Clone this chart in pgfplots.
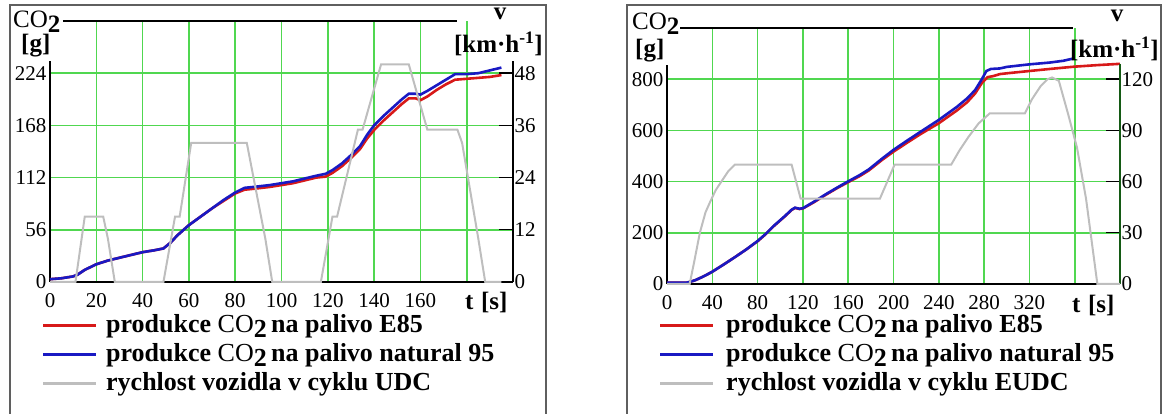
\documentclass[border=0pt]{standalone}
\usepackage{fontspec}
\setmainfont{Liberation Serif}
\usepackage{pgfplots}
\pgfplotsset{compat=1.18}
\definecolor{gridg}{RGB}{80,215,80}
\definecolor{co2red}{RGB}{215,25,25}
\definecolor{co2blue}{RGB}{25,25,195}
\definecolor{vgray}{RGB}{190,190,190}
\definecolor{framec}{RGB}{95,95,95}
\definecolor{axgreen}{RGB}{20,90,20}
\newcommand\tickfont{\fontsize{21}{24}\selectfont}
\newcommand\lblfont{\fontsize{25}{28}\selectfont}
\newcommand\legfont{\fontsize{26}{30}\selectfont}
\newcommand\cotwo{{\mdseries CO}\raisebox{-5pt}{\bfseries 2}}

\pgfplotsset{
  panel/.style={
    scale only axis, anchor=south west, clip=false,
    axis line style={draw=none},
    major tick length=0pt, minor tick length=0pt,
    tick label style={font=\tickfont},
    /pgf/number format/assume math mode=true,
    grid style={gridg, line width=1.6pt},
    xticklabel style={yshift=-8pt},
  },
  vaxis/.style={
    panel, xtick=\empty,
    ytick pos=right, yticklabel pos=right,
    tick align=inside, major tick length=14pt,
    every tick/.style={black, line width=1.4pt},
    yticklabel style={inner xsep=1.5pt},
  },
}

\begin{document}
\begin{tikzpicture}[x=1pt,y=1pt]
\useasboundingbox (0,0) rectangle (1166,414);
\draw[framec, line width=2pt] (10,-10) -- (10,409) -- (546,409) -- (546,-10);
\draw[framec, line width=2pt] (627,-10) -- (627,409) -- (1161,409) -- (1161,-10);

% ---------- UDC, CO2 ----------
\begin{axis}[panel, at={(50pt,132pt)}, width=463pt, height=261pt,
  xmin=0, xmax=200, ymin=0, ymax=280,
  xtick={0,20,...,160}, ytick={0,56,112,168,224},
  minor xtick={20,40,...,180}, minor ytick={56,112,168,224}, grid=minor]
\draw[black, line width=1.5pt] (axis cs:0,0) -- (axis cs:200,0);
\draw[black, line width=1.5pt] (axis cs:0,0) -- (axis cs:0,237);
\draw[black, line width=2pt] (axis cs:5.6,280) -- (axis cs:176,280);
\addplot[co2red, line width=2.6pt] coordinates {
  (0,3) (5,4) (10,6) (12,8) (15,13) (20,19) (25,23) (30,26) (35,29) (40,32)
  (45,34) (49,36) (52,42) (55,50) (60,61) (65,70) (70,79) (75,87) (80,95)
  (84,99) (88,100) (95,102) (100,104) (105,106) (110,109) (115,112) (119,113)
  (122,117) (126,124) (130,133) (134,143) (137,154) (140,163) (144,173)
  (148,182) (152,191) (155,197) (158,197) (160,195) (163,199) (167,206)
  (171,212) (175,217) (180,218) (185,219) (190,220) (195,222)};
\addplot[co2blue, line width=2.6pt] coordinates {
  (0,3) (5,4) (10,6) (12,8) (15,13) (20,19) (25,23) (30,26) (35,29) (40,32)
  (45,34) (49,36) (52,42) (55,50) (60,61) (65,70) (70,79) (75,88) (80,96)
  (84,101) (88,102) (95,104) (100,106) (105,108) (110,111) (115,114) (119,116)
  (122,120) (126,127) (130,136) (134,146) (137,158) (140,168) (144,178)
  (148,187) (152,196) (155,202) (158,202) (160,201) (163,205) (167,211)
  (171,217) (175,223) (180,223) (185,224) (190,227) (195,230)};
\end{axis}

% ---------- UDC, speed ----------
\begin{axis}[vaxis, at={(50pt,132pt)}, width=463pt, height=261pt,
  xmin=0, xmax=200, ymin=0, ymax=60, ytick={0,12,...,48}]
\draw[black, line width=1.5pt] (axis cs:200,0) -- (axis cs:200,50.8);
\addplot[vgray, line width=2pt] coordinates {
  (0,0) (11,0) (15,15) (23,15) (25,10) (28,0) (49,0) (54,15) (56,15) (61,32)
  (85,32) (93,10) (96,0) (117,0) (122,15) (124,15) (133,35) (135,35) (143,50)
  (155,50) (163,35) (176,35) (178,32) (185,10) (188,0) (195,0)};
\end{axis}

% ---------- EUDC, CO2 ----------
\begin{axis}[panel, at={(667pt,130pt)}, width=453pt, height=256pt,
  xmin=0, xmax=400, ymin=0, ymax=1000,
  xtick={0,40,...,320}, ytick={0,200,...,800},
  minor xtick={40,80,...,360}, minor ytick={200,400,600,800}, grid=minor]
\draw[black, line width=1.5pt] (axis cs:0,0) -- (axis cs:400,0);
\draw[black, line width=1.5pt] (axis cs:0,0) -- (axis cs:0,855);
\draw[black, line width=2pt] (axis cs:11.5,1000) -- (axis cs:358.5,1000);
\addplot[co2red, line width=2.6pt] coordinates {
  (0,5) (10,5) (17,5) (20,8) (25,15) (30,25) (35,36) (40,48) (50,76) (60,105)
  (70,135) (80,167) (87,194) (94,225) (104,264) (110,289) (113,297) (117,293)
  (120,295) (130,320) (140,348) (150,374) (160,398) (170,421) (178,443)
  (190,485) (200,517) (212,552) (224,586) (240,628) (256,678) (265,710)
  (272,744) (278,785) (283,808) (288,812) (294,820) (300,823) (320,832)
  (338,840) (350,845) (360,849) (380,855) (392,858) (400,860)};
\addplot[co2blue, line width=2.6pt] coordinates {
  (0,5) (10,5) (17,5) (20,8) (25,15) (30,25) (35,36) (40,48) (50,76) (60,105)
  (70,135) (80,168) (87,195) (94,226) (104,265) (110,290) (113,298) (117,294)
  (120,296) (130,322) (140,350) (150,376) (160,401) (170,425) (178,447)
  (190,490) (200,524) (212,560) (224,595) (240,641) (256,692) (265,725)
  (272,757) (278,800) (282,832) (286,840) (294,842) (300,848) (320,858)
  (338,865) (350,872) (360,882)};
\end{axis}

% ---------- EUDC, speed ----------
\begin{axis}[vaxis, at={(667pt,130pt)}, width=453pt, height=256pt,
  xmin=0, xmax=400, ymin=0, ymax=150, ytick={0,30,...,120}]
\draw[axgreen, line width=2pt] (axis cs:400,0) -- (axis cs:400,129);
\addplot[vgray, line width=2pt] coordinates {
  (0,0) (20,0) (24,13) (29,30) (34,42) (38,48) (43,55) (48,60) (54,66) (60,70)
  (110,70) (118,50) (188,50) (201,70) (251,70) (258,78) (266,86) (275,94)
  (285,100) (316,100) (322,108) (330,116) (336,120) (340,121) (346,119)
  (354,100) (362,80) (370,50) (380,0) (400,0)};
\end{axis}

% ---------- axis titles ----------
\node[anchor=base west, inner sep=0, font=\lblfont] at (13,386) {\cotwo};
\node[anchor=base west, inner sep=0, font=\lblfont\bfseries] at (21,362) {[g]};
\node[anchor=base, inner sep=0, font=\lblfont\bfseries] at (500,394) {v};
\node[anchor=base east, inner sep=0, font=\lblfont\bfseries] at (543,361) {[km·h\textsuperscript{-1}]};
\node[anchor=base west, inner sep=0, font=\lblfont\bfseries] at (465,104) {t\hspace{0.3em}[s]};

\node[anchor=base west, inner sep=0, font=\lblfont] at (632,384) {\cotwo};
\node[anchor=base west, inner sep=0, font=\lblfont\bfseries] at (635,357) {[g]};
\node[anchor=base, inner sep=0, font=\lblfont\bfseries] at (1117,392) {v};
\node[anchor=base east, inner sep=0, font=\lblfont\bfseries] at (1159,356) {[km·h\textsuperscript{-1}]};
\node[anchor=base west, inner sep=0, font=\lblfont\bfseries] at (1072,101) {t\hspace{0.3em}[s]};

% ---------- legends ----------
\draw[co2red, line width=3pt] (43,88) -- (96,88);
\draw[co2blue, line width=3pt] (43,59) -- (96,59);
\draw[vgray, line width=3pt] (43,30) -- (96,30);
\node[anchor=base west, inner sep=0, font=\legfont\bfseries] at (106,81) {produkce \cotwo\,na palivo E85};
\node[anchor=base west, inner sep=0, font=\legfont\bfseries] at (106,52) {produkce \cotwo\,na palivo natural 95};
\node[anchor=base west, inner sep=0, font=\legfont\bfseries] at (106,23) {rychlost vozidla v cyklu UDC};

\draw[co2red, line width=3pt] (660,88) -- (713,88);
\draw[co2blue, line width=3pt] (660,59) -- (713,59);
\draw[vgray, line width=3pt] (660,30) -- (713,30);
\node[anchor=base west, inner sep=0, font=\legfont\bfseries] at (726,81) {produkce \cotwo\,na palivo E85};
\node[anchor=base west, inner sep=0, font=\legfont\bfseries] at (726,52) {produkce \cotwo\,na palivo natural 95};
\node[anchor=base west, inner sep=0, font=\legfont\bfseries] at (726,23) {rychlost vozidla v cyklu EUDC};
\end{tikzpicture}
\end{document}
